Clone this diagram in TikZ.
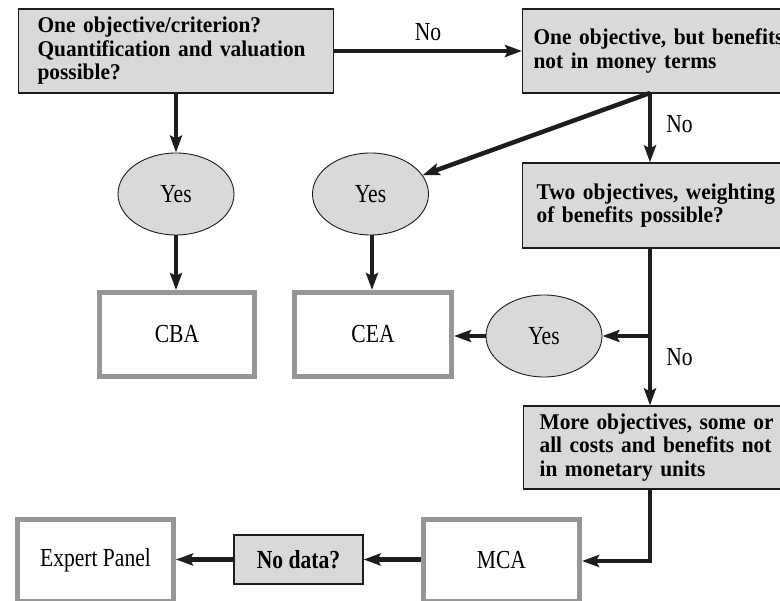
\documentclass[tikz,border=0pt]{standalone}
\usepackage{fontspec}
\setmainfont{Liberation Serif}
\newfontfamily\condserif[FakeStretch=0.83]{Liberation Serif}
\newfontfamily\boldserif[FakeStretch=0.95]{Liberation Serif}
\usetikzlibrary{arrows.meta,shapes.geometric,calc}
\definecolor{boxfill}{RGB}{216,218,217}
\definecolor{frameg}{RGB}{150,150,150}
\definecolor{ink}{RGB}{30,28,29}
\begin{document}
\begin{tikzpicture}[x=1pt,y=-1pt,
  every node/.style={font=\condserif\fontsize{26}{28}\selectfont, text=black},
  qbox/.style={draw=ink, line width=1.2pt, fill=boxfill, rectangle, anchor=west,
     align=left, font=\boldserif\fontsize{22.5}{23.5}\bfseries\selectfont, inner ysep=0pt},
  yesnode/.style={ellipse, draw=ink, line width=0.9pt, fill=boxfill, minimum width=116pt, minimum height=82pt, inner sep=0pt},
  resbox/.style={rectangle, draw=frameg, line width=5pt, fill=white, inner sep=0pt},
  flow/.style={draw=ink, line width=4.5pt, -{Stealth[length=17pt,width=12pt,inset=3pt]}},
  flowline/.style={draw=ink, line width=4.5pt},
  lab/.style={inner sep=0pt}
]
\useasboundingbox (0,0) rectangle (780,601);
\clip (0,0) rectangle (780,601);
\fill[white] (0,0) rectangle (780,601);

% question boxes
\node[qbox, minimum height=84pt, inner xsep=19pt, text width=277pt] (b1) at (18,51)
  {One objective/criterion?\\Quantification and valuation\\possible?};
\node[qbox, minimum height=84pt, inner xsep=11pt, text width=270pt] (b2) at (522,51)
  {One objective, but benefits\\not in money terms};
\node[qbox, minimum height=85pt, inner xsep=14pt, text width=270pt] (b3) at (522,205.5)
  {Two objectives, weighting\\of benefits possible?};
\node[qbox, minimum height=83pt, inner xsep=16pt, text width=270pt] (b4) at (523,447.5)
  {More objectives, some or\\all costs and benefits not\\in monetary units};

% yes ellipses
\node[yesnode] (e1) at (176,194) {Yes};
\node[yesnode] (e2) at (370.5,194) {Yes};
\node[yesnode] (e3) at (544,336) {Yes};

% result boxes
\node[resbox, minimum width=155pt, minimum height=84pt] (cba) at (177,334.5) {CBA};
\node[resbox, minimum width=157pt, minimum height=84pt] (cea) at (373,334.5) {CEA};
\node[resbox, minimum width=156pt, minimum height=82pt] (mca) at (501.5,560.5) {MCA};
\node[resbox, minimum width=156pt, minimum height=82pt] (exp) at (95.5,560.5) {Expert Panel};
\node[draw=ink, line width=1.2pt, fill=boxfill, rectangle, minimum width=129pt, minimum height=49pt, inner sep=0pt,
  font=\condserif\fontsize{26}{28}\bfseries\selectfont] (nd) at (298.5,559.5) {No data?};

% helper coordinates
\coordinate (b2s) at (650,93);
\coordinate (split) at (650,336);
\coordinate (b4s) at (650,489);
\coordinate (corner) at (650,561);

% connectors
\draw[flow] (b1.east) -- (b2.west) node[lab, midway, above=8pt] {No};
\draw[flow] (b1.south -| e1.north) -- (e1.north);
\draw[flow] (e1.south) -- (cba.north -| e1.south);
\draw[flow] (b2s) -- (e2);
\draw[flow] (b2s) -- (b2s |- b3.north) node[lab, pos=0.45, right=14pt] {No};
\draw[flow] (e2.south -| 372,0) -- (cea.north -| 372,0);
\draw[flowline] (split |- b3.south) -- (split);
\draw[flow] (split) -- (split |- b4.north) node[lab, pos=0.3, right=14pt] {No};
\draw[flow] (split) -- (e3.east);
\draw[flow] (e3.west) -- (cea.east |- e3.west);
\draw[flow] (b4s) -- (corner) -- (mca.east |- corner);
\draw[flow] (mca.west |- nd.east) -- (nd.east);
\draw[flow] (nd.west) -- (exp.east |- nd.west);
\end{tikzpicture}
\end{document}
